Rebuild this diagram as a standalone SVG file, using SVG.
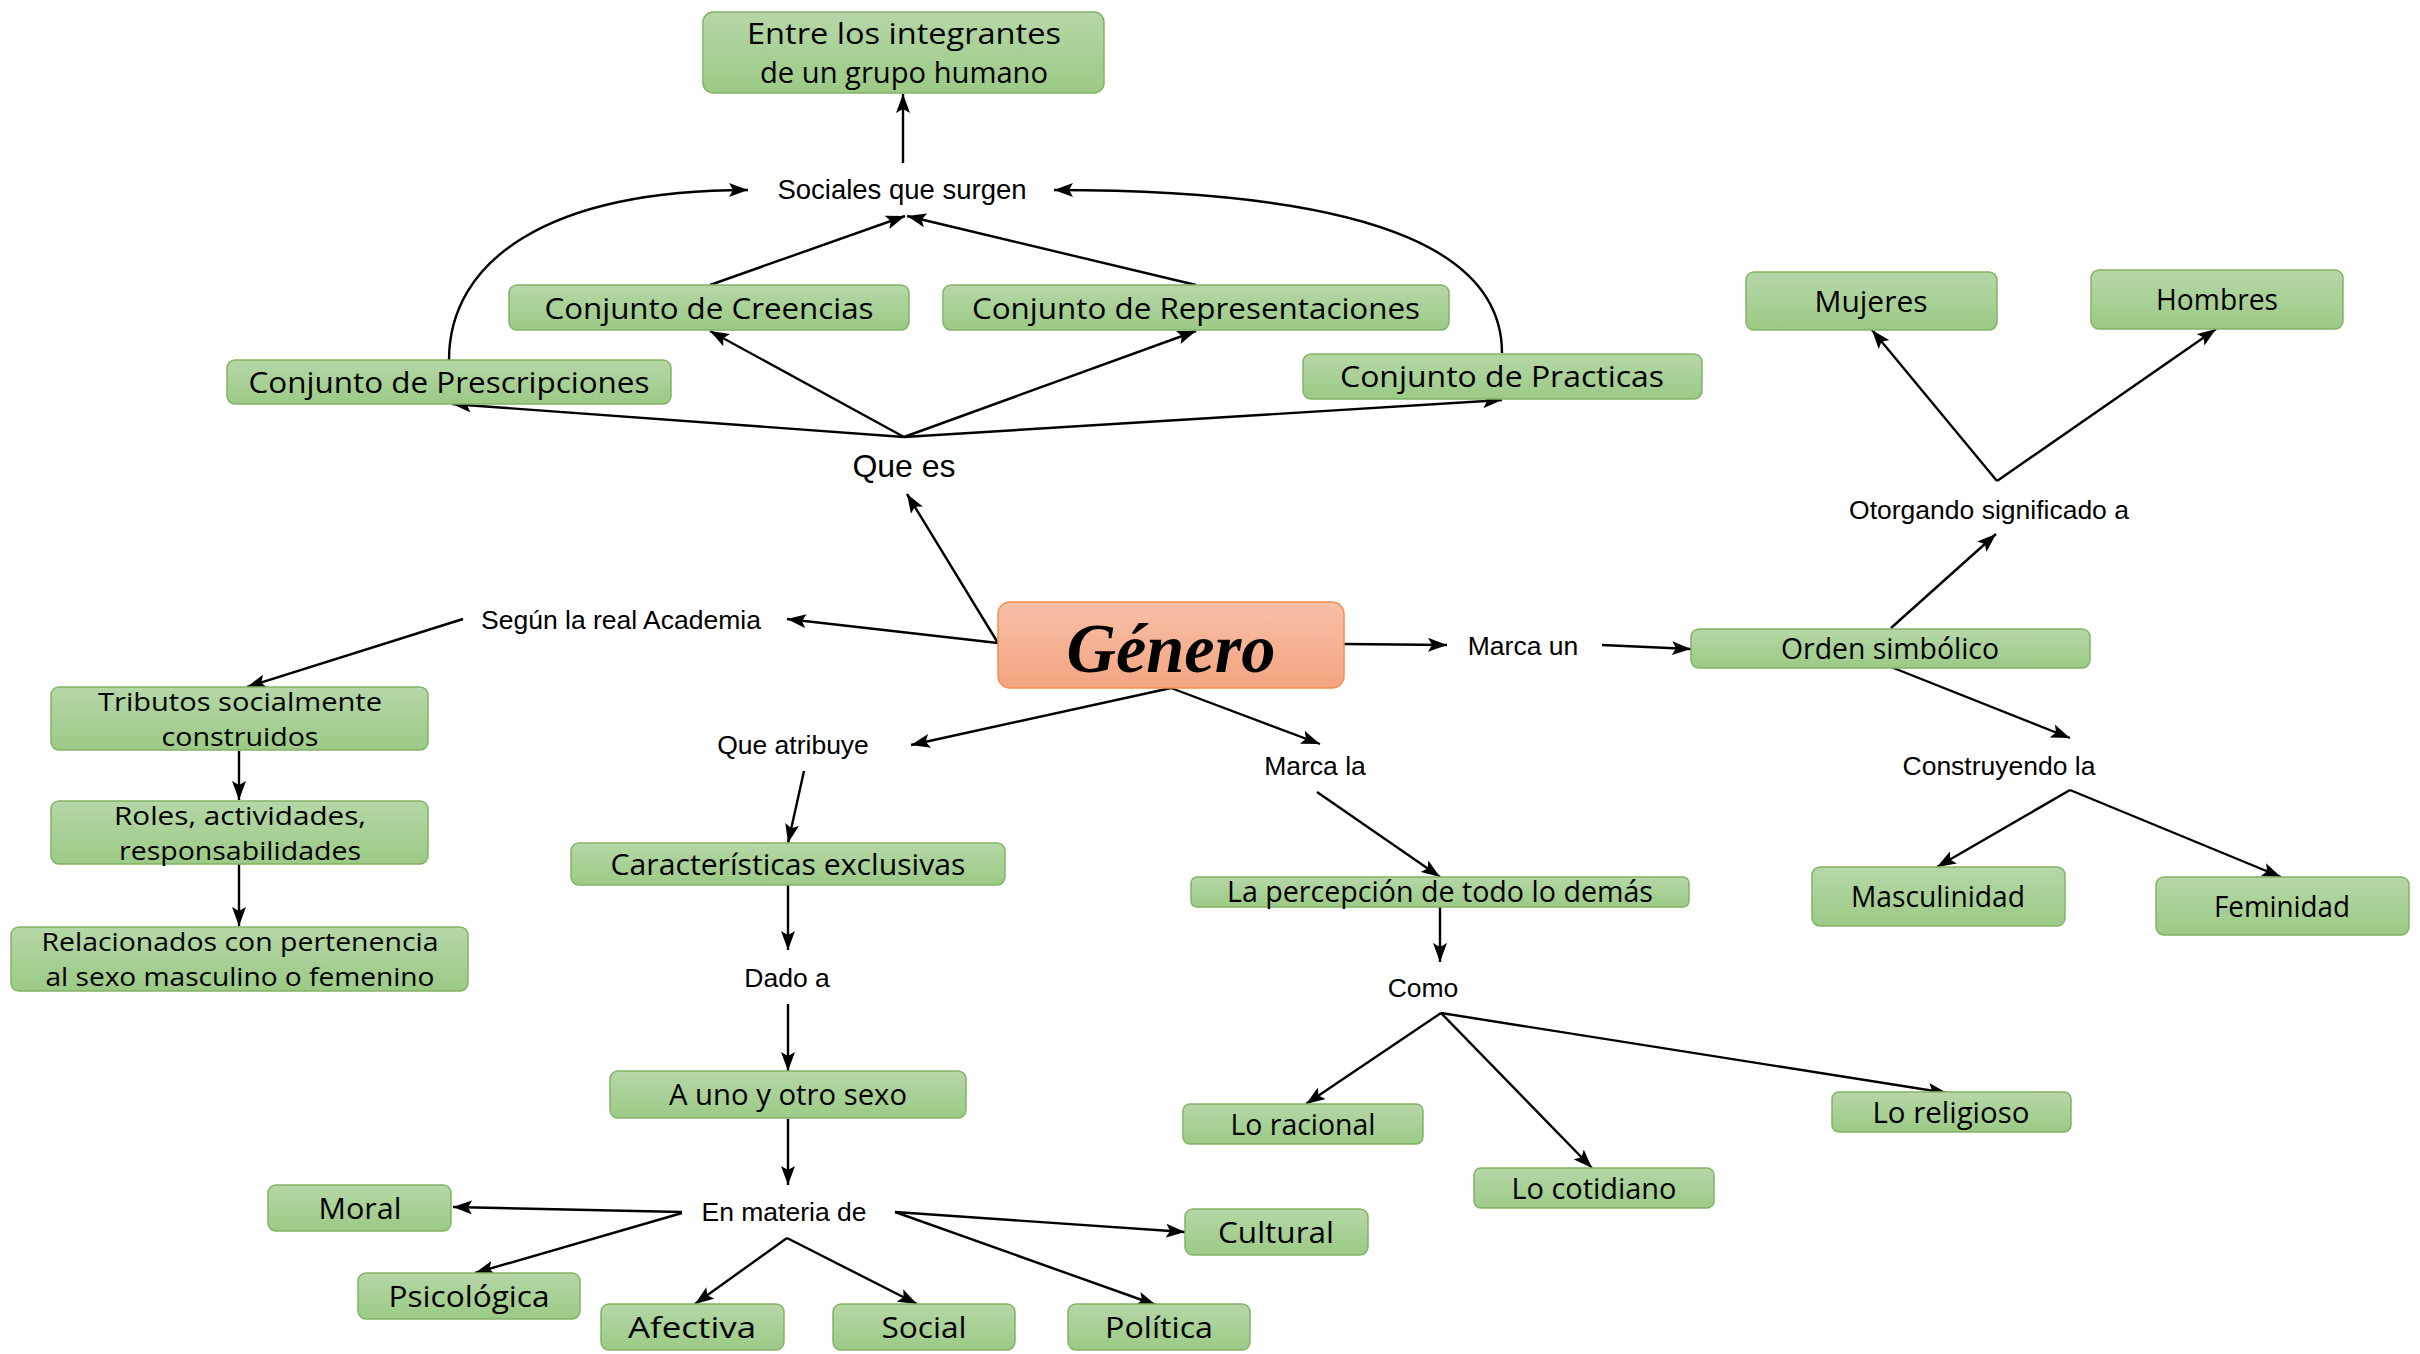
<svg xmlns="http://www.w3.org/2000/svg" width="2420" height="1354" viewBox="0 0 2420 1354">
<defs>
<linearGradient id="gG" x1="0" y1="0" x2="0" y2="1">
<stop offset="0" stop-color="#b6d7a8"/>
<stop offset="1" stop-color="#9bca85"/>
</linearGradient>
<linearGradient id="gO" x1="0" y1="0" x2="0" y2="1">
<stop offset="0" stop-color="#f7c0a8"/>
<stop offset="1" stop-color="#f4a480"/>
</linearGradient>
<marker id="ar" viewBox="0 0 19 14" markerWidth="19" markerHeight="14" refX="19" refY="7" orient="auto" markerUnits="userSpaceOnUse">
<path d="M0,0 L19,7 L0,14 L4,7 z" fill="#000"/>
</marker>
<style>
.n{fill:url(#gG);stroke:#82b366;stroke-width:1.5}
.o{fill:url(#gO);stroke:#f0904f;stroke-width:1.5}
.t{font-family:"Open Sans","Noto Sans","DejaVu Sans",sans-serif;font-size:29px;fill:#000;text-anchor:middle}
.t2{font-size:25px}
.l{font-family:"Liberation Sans",Arial,sans-serif;font-size:26.5px;fill:#000;text-anchor:middle}
.c path{fill:none;stroke:#000;stroke-width:2.4}
.c .a{marker-end:url(#ar)}
</style>
</defs>
<rect width="2420" height="1354" fill="#fff"/>

<g class="c" id="connectors">
<path class="a" d="M903,163 L903,94"/>
<path class="a" d="M710,285 L905,216"/>
<path class="a" d="M1196,285 L907,216"/>
<path class="a" d="M449,360 C449,262 545,190 748,190"/>
<path class="a" d="M1502,353 C1502,262 1400,190 1054,190"/>
<path class="a" d="M904,437 L452,404"/>
<path class="a" d="M904,437 L710,331"/>
<path class="a" d="M904,437 L1196,331"/>
<path class="a" d="M904,437 L1502,400"/>
<path class="a" d="M998,643 L907,494"/>
<path class="a" d="M998,643 L787,619"/>
<path class="a" d="M463,619 L247,687"/>
<path class="a" d="M239,751 L239,800"/>
<path class="a" d="M239,864 L239,926"/>
<path class="a" d="M1171,688 L911,745"/>
<path class="a" d="M1171,688 L1320,744"/>
<path class="a" d="M804,771 L788,843"/>
<path class="a" d="M788,885 L788,950"/>
<path class="a" d="M788,1004 L788,1071"/>
<path class="a" d="M788,1119 L788,1185"/>
<path class="a" d="M682,1212 L453,1207"/>
<path class="a" d="M682,1213 L475,1273"/>
<path class="a" d="M787,1238 L695,1304"/>
<path class="a" d="M787,1238 L917,1304"/>
<path class="a" d="M895,1212 L1185,1232"/>
<path class="a" d="M895,1212 L1156,1305"/>
<path class="a" d="M1317,792 L1440,877"/>
<path class="a" d="M1440,907 L1440,962"/>
<path class="a" d="M1441,1013 L1306,1104"/>
<path class="a" d="M1441,1013 L1592,1168"/>
<path class="a" d="M1441,1013 L1947,1093"/>
<path class="a" d="M1344,644 L1447,645"/>
<path class="a" d="M1602,645 L1691,649"/>
<path class="a" d="M1891,628 L1996,534"/>
<path class="a" d="M1997,481 L1872,330"/>
<path class="a" d="M1997,481 L2216,329"/>
<path class="a" d="M1891,667 L2070,738"/>
<path class="a" d="M2070,790 L1937,867"/>
<path class="a" d="M2070,790 L2281,877"/>
</g>

<g id="labels">
<text class="l" x="902" y="199" style="font-size:27.5px">Sociales que surgen</text>
<text class="l" x="904" y="477" style="font-size:32px">Que es</text>
<text class="l" x="621" y="629">Según la real Academia</text>
<text class="l" x="1523" y="655">Marca un</text>
<text class="l" x="1989" y="519">Otorgando significado a</text>
<text class="l" x="1999" y="775">Construyendo la</text>
<text class="l" x="793" y="754">Que atribuye</text>
<text class="l" x="787" y="987">Dado a</text>
<text class="l" x="784" y="1221">En materia de</text>
<text class="l" x="1315" y="775">Marca la</text>
<text class="l" x="1423" y="997">Como</text>
</g>

<g id="n-entre"><rect class="n" x="703" y="12" width="401" height="81" rx="10"/>
<text class="t" x="904" y="44" textLength="314" lengthAdjust="spacingAndGlyphs">Entre los integrantes</text>
<text class="t" x="904" y="83" textLength="288" lengthAdjust="spacingAndGlyphs">de un grupo humano</text></g>

<g id="n-creencias"><rect class="n" x="509" y="285" width="400" height="45" rx="8"/>
<text class="t" x="709" y="319" textLength="329" lengthAdjust="spacingAndGlyphs">Conjunto de Creencias</text></g>

<g id="n-representaciones"><rect class="n" x="943" y="285" width="506" height="45" rx="8"/>
<text class="t" x="1196" y="319" textLength="448" lengthAdjust="spacingAndGlyphs">Conjunto de Representaciones</text></g>

<g id="n-prescripciones"><rect class="n" x="227" y="360" width="444" height="44" rx="8"/>
<text class="t" x="449" y="393" textLength="401" lengthAdjust="spacingAndGlyphs">Conjunto de Prescripciones</text></g>

<g id="n-practicas"><rect class="n" x="1303" y="354" width="399" height="45" rx="8"/>
<text class="t" x="1502" y="387" textLength="324" lengthAdjust="spacingAndGlyphs">Conjunto de Practicas</text></g>

<g id="n-genero"><rect class="o" x="998" y="602" width="346" height="86" rx="12"/>
<text x="1171" y="672" text-anchor="middle" style="font-family:'Liberation Serif','DejaVu Serif',serif;font-size:70px;font-weight:bold;font-style:italic" textLength="209" lengthAdjust="spacingAndGlyphs">Género</text></g>

<g id="n-orden"><rect class="n" x="1691" y="629" width="399" height="39" rx="8"/>
<text class="t" x="1890" y="659" textLength="218" lengthAdjust="spacingAndGlyphs">Orden simbólico</text></g>

<g id="n-mujeres"><rect class="n" x="1746" y="272" width="251" height="58" rx="8"/>
<text class="t" x="1871" y="312" textLength="113" lengthAdjust="spacingAndGlyphs">Mujeres</text></g>

<g id="n-hombres"><rect class="n" x="2091" y="270" width="252" height="59" rx="8"/>
<text class="t" x="2217" y="310" textLength="122" lengthAdjust="spacingAndGlyphs">Hombres</text></g>

<g id="n-masculinidad"><rect class="n" x="1812" y="867" width="253" height="59" rx="8"/>
<text class="t" x="1938" y="907" textLength="174" lengthAdjust="spacingAndGlyphs">Masculinidad</text></g>

<g id="n-feminidad"><rect class="n" x="2156" y="877" width="253" height="58" rx="8"/>
<text class="t" x="2282" y="917" textLength="136" lengthAdjust="spacingAndGlyphs">Feminidad</text></g>

<g id="n-tributos"><rect class="n" x="51" y="687" width="377" height="63" rx="8"/>
<text class="t t2" x="240" y="711" textLength="284" lengthAdjust="spacingAndGlyphs">Tributos socialmente</text>
<text class="t t2" x="240" y="746" textLength="157" lengthAdjust="spacingAndGlyphs">construidos</text></g>

<g id="n-roles"><rect class="n" x="51" y="801" width="377" height="63" rx="8"/>
<text class="t t2" x="240" y="825" textLength="252" lengthAdjust="spacingAndGlyphs">Roles, actividades,</text>
<text class="t t2" x="240" y="860" textLength="242" lengthAdjust="spacingAndGlyphs">responsabilidades</text></g>

<g id="n-relacionados"><rect class="n" x="11" y="927" width="457" height="64" rx="8"/>
<text class="t t2" x="240" y="951" textLength="397" lengthAdjust="spacingAndGlyphs">Relacionados con pertenencia</text>
<text class="t t2" x="240" y="986" textLength="389" lengthAdjust="spacingAndGlyphs">al sexo masculino o femenino</text></g>

<g id="n-caracteristicas"><rect class="n" x="571" y="843" width="434" height="42" rx="8"/>
<text class="t" x="788" y="875" textLength="355" lengthAdjust="spacingAndGlyphs">Características exclusivas</text></g>

<g id="n-auno"><rect class="n" x="610" y="1071" width="356" height="47" rx="8"/>
<text class="t" x="788" y="1105" textLength="238" lengthAdjust="spacingAndGlyphs">A uno y otro sexo</text></g>

<g id="n-moral"><rect class="n" x="268" y="1185" width="183" height="46" rx="8"/>
<text class="t" x="360" y="1219" textLength="83" lengthAdjust="spacingAndGlyphs">Moral</text></g>

<g id="n-psicologica"><rect class="n" x="358" y="1273" width="222" height="46" rx="8"/>
<text class="t" x="469" y="1307" textLength="161" lengthAdjust="spacingAndGlyphs">Psicológica</text></g>

<g id="n-afectiva"><rect class="n" x="601" y="1304" width="183" height="46" rx="8"/>
<text class="t" x="692" y="1338" textLength="128" lengthAdjust="spacingAndGlyphs">Afectiva</text></g>

<g id="n-social"><rect class="n" x="833" y="1304" width="182" height="46" rx="8"/>
<text class="t" x="924" y="1338" textLength="85" lengthAdjust="spacingAndGlyphs">Social</text></g>

<g id="n-politica"><rect class="n" x="1068" y="1304" width="182" height="46" rx="8"/>
<text class="t" x="1159" y="1338" textLength="108" lengthAdjust="spacingAndGlyphs">Política</text></g>

<g id="n-cultural"><rect class="n" x="1185" y="1209" width="183" height="46" rx="8"/>
<text class="t" x="1276" y="1243" textLength="116" lengthAdjust="spacingAndGlyphs">Cultural</text></g>

<g id="n-percepcion"><rect class="n" x="1191" y="877" width="498" height="30" rx="6"/>
<text class="t" x="1440" y="902" textLength="426" lengthAdjust="spacingAndGlyphs">La percepción de todo lo demás</text></g>

<g id="n-racional"><rect class="n" x="1183" y="1104" width="240" height="40" rx="7"/>
<text class="t" x="1303" y="1135" textLength="145" lengthAdjust="spacingAndGlyphs">Lo racional</text></g>

<g id="n-cotidiano"><rect class="n" x="1474" y="1168" width="240" height="40" rx="7"/>
<text class="t" x="1594" y="1199" textLength="165" lengthAdjust="spacingAndGlyphs">Lo cotidiano</text></g>

<g id="n-religioso"><rect class="n" x="1832" y="1092" width="239" height="40" rx="7"/>
<text class="t" x="1951" y="1123" textLength="157" lengthAdjust="spacingAndGlyphs">Lo religioso</text></g>
</svg>
